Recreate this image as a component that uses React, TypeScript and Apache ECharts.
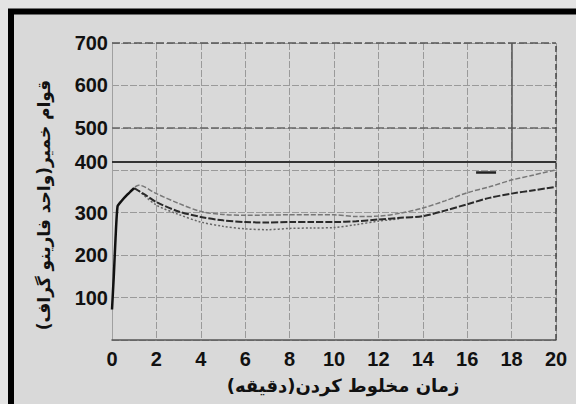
import React, { useEffect, useRef } from "react";
import * as echarts from "echarts";

const xTicks = [0, 2, 4, 6, 8, 10, 12, 14, 16, 18, 20];
const yTicks = [100, 200, 300, 400, 500, 600, 700];

const riseX = [0, 0.08, 0.16, 0.25, 0.4, 0.7, 1.0];
const riseY = [72, 150, 240, 315, 326, 343, 358];

const upperX = [0.8, 1.2, 2, 3, 4, 5, 6, 8, 10, 11, 12, 13, 14, 15, 16, 17, 18, 19, 20];
const upperY = [350, 365, 345, 322, 303, 296, 294, 295, 295, 291, 292, 299, 311, 328, 347, 361, 377, 389, 401];

const middleX = [1, 1.5, 2, 3, 4, 5, 6, 7, 8, 9, 10, 11, 12, 13, 14, 15, 16, 17, 18, 19, 20];
const middleY = [358, 342, 325, 303, 290, 282, 278, 277, 278, 278, 278, 280, 284, 288, 292, 305, 320, 335, 345, 353, 361];

const lowerX = [1.2, 2, 3, 4, 5, 6, 7, 8, 9, 10, 11, 12, 13];
const lowerY = [352, 318, 296, 278, 268, 262, 260, 263, 264, 265, 272, 280, 286];

const refLevel = 420;
const xTitle = "زمان مخلوط کردن(دقیقه)";
const yTitle = "قوام خمیر(واحد فارینو گراف)";

const zip = (xs: number[], ys: number[]) => xs.map((x, i) => [x, ys[i]]);

export default function App() {
  const ref = useRef<HTMLDivElement>(null);
  useEffect(() => {
    if (!ref.current) return;
    const chart = echarts.init(ref.current, undefined, { renderer: "svg" });
    const labelFont = { fontFamily: "Liberation Sans, Arial, sans-serif", fontWeight: "bold" as const, fontSize: 20, color: "#111" };
    chart.setOption({
      animation: false,
      backgroundColor: "#e3e3e3",
      grid: { left: 112, right: 20, top: 43, bottom: 64 },
      xAxis: {
        type: "value",
        min: xTicks[0],
        max: xTicks[xTicks.length - 1],
        interval: 2,
        axisLine: { show: true, lineStyle: { color: "#555", width: 1.5 } },
        axisTick: { show: false },
        axisLabel: { ...labelFont, margin: 9, formatter: (v: number) => (xTicks.includes(v) ? String(v) : "") },
        splitLine: { show: true, lineStyle: { color: "#9a9a9a", width: 1, type: [7, 2] } },
      },
      yAxis: {
        type: "value",
        min: 0,
        max: 700,
        interval: 100,
        axisLine: { show: true, lineStyle: { color: "#a0a0a0", width: 1 } },
        axisTick: { show: false },
        axisLabel: {
          ...labelFont,
          margin: 4,
          formatter: (v: number) => (v === 400 ? "{s|400}" : yTicks.includes(v) ? String(v) : ""),
          rich: { s: { ...labelFont, padding: [0, 0, 16, 0] } },
        },
        splitLine: { show: true, lineStyle: { color: "#9a9a9a", width: 1, type: [7, 2] } },
      },
      graphic: [
        {
          type: "rect",
          z: -10,
          shape: { x: 11, y: 11.5, width: 620, height: 440 },
          style: { fill: "#d9d9d9", stroke: "#000", lineWidth: 6 },
        },
        {
          type: "text",
          x: 343,
          y: 385,
          style: { text: xTitle, align: "center", verticalAlign: "middle", font: "bold 18px 'DejaVu Sans', sans-serif", fill: "#111" },
        },
        {
          type: "text",
          x: 44,
          y: 205,
          rotation: Math.PI / 2,
          style: { text: yTitle, align: "center", verticalAlign: "middle", font: "bold 17px 'DejaVu Sans', sans-serif", fill: "#111" },
        },
      ],
      series: [
        {
          type: "line",
          data: zip(lowerX, lowerY),
          symbol: "none",
          smooth: 0.3,
          lineStyle: { color: "#666", width: 1.5, type: [2, 2] },
          markLine: {
            silent: true,
            symbol: "none",
            label: { show: false },
            data: [
              [{ coord: [0, 700], lineStyle: { color: "#555", width: 1.5, type: [8, 3] } }, { coord: [20, 700] }],
              [{ coord: [0, 500], lineStyle: { color: "#666", width: 1.5, type: [8, 3] } }, { coord: [20, 500] }],
              [{ coord: [0, refLevel], lineStyle: { color: "#333", width: 1.8, type: "solid" } }, { coord: [20, refLevel] }],
              [{ coord: [18, 700], lineStyle: { color: "#555", width: 1.5, type: "solid" } }, { coord: [18, refLevel] }],
              [{ coord: [20, 0], lineStyle: { color: "#444", width: 1.5, type: [6, 3] } }, { coord: [20, 700] }],
              [{ coord: [16.4, 396], lineStyle: { color: "#222", width: 2.5, type: "solid" } }, { coord: [17.3, 396] }],
            ],
          },
        },
        {
          type: "line",
          data: zip(upperX, upperY),
          symbol: "none",
          smooth: 0.3,
          lineStyle: { color: "#777", width: 1.5, type: [5, 2] },
        },
        {
          type: "line",
          data: zip(middleX, middleY),
          symbol: "none",
          smooth: 0.3,
          lineStyle: { color: "#2a2a2a", width: 2, type: [7, 2] },
        },
        {
          type: "line",
          data: zip(riseX, riseY),
          symbol: "none",
          smooth: 0.2,
          lineStyle: { color: "#111", width: 2.5 },
        },
      ],
    });
    return () => chart.dispose();
  }, []);
  return <div ref={ref} style={{ position: "fixed", left: 0, top: 0, width: 576, height: 404 }} />;
}
